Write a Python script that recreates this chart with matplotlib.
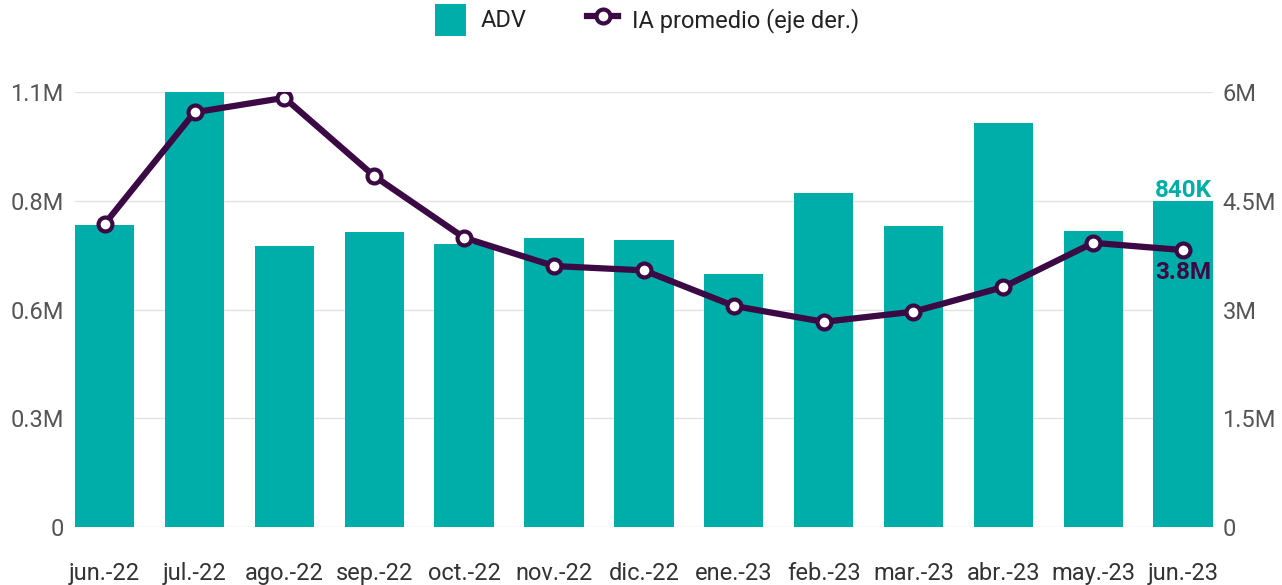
import numpy as np
import matplotlib.pyplot as plt
from matplotlib.ticker import FuncFormatter

plt.rcParams['font.family'] = ['Roboto', 'DejaVu Sans']

# datos
meses = ['jun.-22', 'jul.-22', 'ago.-22', 'sep.-22', 'oct.-22', 'nov.-22', 'dic.-22',
         'ene.-23', 'feb.-23', 'mar.-23', 'abr.-23', 'may.-23', 'jun.-23']
adv = [0.778e6, 1.12e6, 0.723e6, 0.760e6, 0.729e6, 0.744e6, 0.739e6,
       0.651e6, 0.860e6, 0.775e6, 1.040e6, 0.762e6, 0.84e6]
ia_promedio = [4.18e6, 5.72e6, 5.92e6, 4.84e6, 3.99e6, 3.60e6, 3.54e6,
               3.05e6, 2.83e6, 2.97e6, 3.31e6, 3.92e6, 3.82e6]

teal = '#00aea9'
morado = '#3b0a45'
gris = '#555555'

fig = plt.figure(figsize=(12.82, 5.85), dpi=100)
ax = fig.add_axes([0.0585, 0.0991, 0.8875, 0.7436])
ax2 = ax.twinx()

x = np.arange(len(meses))
ax.bar(x, adv, width=0.66, color=teal, zorder=2, label='ADV')
ax2.plot(x, ia_promedio, color=morado, lw=4.5, marker='o', ms=10, mfc='white',
         mec=morado, mew=3, zorder=3, label='IA promedio (eje der.)')

ax.set_xlim(-0.33, len(meses) - 1 + 0.33)
ax.set_ylim(0, 1.12e6)
ax.set_yticks(np.arange(0, 1.12e6 + 1, 0.28e6))
ax2.set_ylim(0, 6e6)
ax2.set_yticks(np.arange(0, 6e6 + 1, 1.5e6))

def fmt_izq(v, pos):
    return '0' if v == 0 else f'{v/1e6:.1f}M'

def fmt_der(v, pos):
    return '0' if v == 0 else f'{v/1e6:g}M'

ax.yaxis.set_major_formatter(FuncFormatter(fmt_izq))
ax2.yaxis.set_major_formatter(FuncFormatter(fmt_der))

ax.set_xticks(x)
ax.set_xticklabels(meses)

for a in (ax, ax2):
    for s in a.spines.values():
        s.set_visible(False)
    a.tick_params(length=0, labelsize=17, labelcolor=gris)
ax.tick_params(axis='x', pad=25, labelcolor='#333333')
ax.tick_params(axis='y', pad=8)
ax2.tick_params(axis='y', pad=7)

ax.grid(axis='y', color='#e3e3e3', lw=1, zorder=0)
ax.set_axisbelow(True)
ax.set_zorder(ax2.get_zorder() - 1)
ax.patch.set_visible(True)
ax2.patch.set_visible(False)

# etiquetas del ultimo punto
ax.annotate(f'{adv[-1]/1e3:.0f}K', (x[-1], adv[-1]), xytext=(0, -1),
            textcoords='offset points', ha='center', va='bottom',
            color=teal, fontsize=17.5, fontweight='bold')
ax2.annotate(f'{ia_promedio[-1]/1e6:.1f}M', (x[-1], ia_promedio[-1]), xytext=(0, -8),
             textcoords='offset points', ha='center', va='top',
             color=morado, fontsize=17.5, fontweight='bold')

h1, l1 = ax.get_legend_handles_labels()
h2, l2 = ax2.get_legend_handles_labels()
fig.legend(h1 + h2, l1 + l2, loc='upper center', bbox_to_anchor=(0.505, 1.03), ncol=2,
           frameon=False, fontsize=17, labelcolor='#222222', handlelength=1.3,
           handleheight=1.7, columnspacing=2.6, handletextpad=0.6)

fig.savefig('out.png', dpi=100)
